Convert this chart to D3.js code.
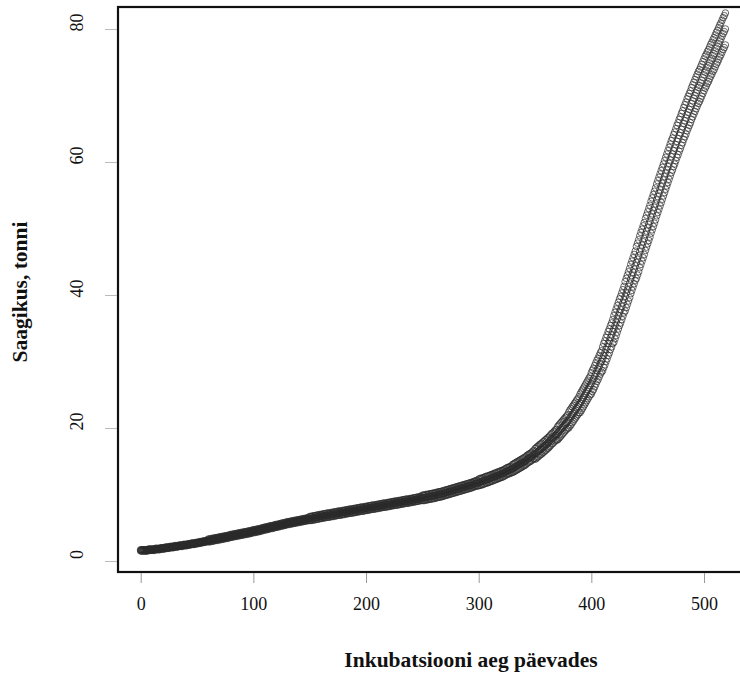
<!DOCTYPE html>
<html>
<head>
<meta charset="utf-8">
<script src="https://cdn.jsdelivr.net/npm/d3@7"></script>
<style>
  html, body { margin: 0; padding: 0; background: #fff; }
  svg { display: block; }
</style>
</head>
<body>
<svg id="chart" width="740" height="674"></svg>
<script>
// Daily yield records (tonnes), one value per incubation day starting at day 0.
const seriesA = [
1.7,1.7,1.7,1.7,1.7,1.7,1.7,1.8,1.8,1.8, 1.8,1.8,1.8,1.9,1.9,1.9,1.9,1.9,2.0,2.0,
2.0,2.0,2.1,2.1,2.1,2.1,2.2,2.2,2.2,2.2, 2.3,2.3,2.3,2.3,2.4,2.4,2.4,2.4,2.5,2.5,
2.5,2.5,2.6,2.6,2.6,2.7,2.7,2.7,2.7,2.8, 2.8,2.8,2.9,2.9,2.9,3.0,3.0,3.0,3.1,3.1,
3.3,3.3,3.3,3.4,3.4,3.4,3.5,3.5,3.5,3.6, 3.6,3.6,3.7,3.7,3.7,3.8,3.8,3.8,3.9,3.9,
4.0,4.0,4.0,4.1,4.1,4.1,4.2,4.2,4.2,4.3, 4.3,4.3,4.4,4.4,4.4,4.5,4.5,4.5,4.6,4.6,
4.7,4.7,4.7,4.8,4.8,4.8,4.9,4.9,5.0,5.0, 5.1,5.1,5.1,5.2,5.2,5.3,5.3,5.3,5.4,5.4,
5.5,5.5,5.5,5.6,5.6,5.7,5.7,5.7,5.8,5.8, 5.9,5.9,5.9,6.0,6.0,6.0,6.1,6.1,6.1,6.2,
6.2,6.2,6.3,6.3,6.3,6.4,6.4,6.4,6.5,6.5, 6.7,6.7,6.7,6.8,6.8,6.8,6.9,6.9,6.9,7.0,
7.0,7.0,7.1,7.1,7.1,7.2,7.2,7.2,7.2,7.3, 7.3,7.3,7.4,7.4,7.4,7.5,7.5,7.5,7.5,7.6,
7.6,7.6,7.7,7.7,7.7,7.8,7.8,7.8,7.8,7.9, 7.9,7.9,8.0,8.0,8.0,8.1,8.1,8.1,8.1,8.2,
8.2,8.2,8.3,8.3,8.3,8.4,8.4,8.4,8.4,8.5, 8.5,8.5,8.6,8.6,8.6,8.7,8.7,8.7,8.7,8.8,
8.8,8.8,8.9,8.9,8.9,9.0,9.0,9.0,9.0,9.1, 9.1,9.1,9.2,9.2,9.2,9.3,9.3,9.3,9.3,9.4,
9.4,9.4,9.5,9.5,9.5,9.6,9.6,9.6,9.7,9.7, 9.9,9.9,9.9,10.0,10.0,10.0,10.1,10.1,10.1,10.2,
10.2,10.2,10.3,10.3,10.4,10.4,10.4,10.5,10.5,10.6, 10.6,10.7,10.7,10.8,10.8,10.9,10.9,11.0,11.0,11.1,
11.1,11.2,11.2,11.3,11.3,11.4,11.4,11.5,11.5,11.6, 11.6,11.7,11.7,11.8,11.8,11.9,12.0,12.0,12.1,12.1,
12.3,12.4,12.4,12.5,12.5,12.6,12.7,12.7,12.8,12.8, 12.9,13.0,13.0,13.1,13.2,13.2,13.3,13.4,13.4,13.5,
13.6,13.6,13.7,13.8,13.9,14.0,14.1,14.1,14.2,14.3, 14.5,14.6,14.7,14.8,14.9,15.0,15.1,15.2,15.3,15.4,
15.5,15.6,15.7,15.9,16.0,16.1,16.2,16.3,16.5,16.6, 16.9,17.0,17.2,17.3,17.5,17.6,17.7,17.9,18.0,18.2,
18.3,18.5,18.6,18.8,19.0,19.2,19.3,19.5,19.7,19.8, 20.2,20.4,20.6,20.8,21.0,21.2,21.4,21.6,21.8,22.0,
22.4,22.7,22.9,23.2,23.4,23.7,23.9,24.2,24.4,24.7, 25.1,25.4,25.7,26.0,26.3,26.6,26.9,27.2,27.5,27.8,
28.3,28.7,29.0,29.4,29.8,30.2,30.5,30.9,31.3,31.6, 32.2,32.7,33.1,33.6,34.0,34.5,34.9,35.4,35.8,36.3,
36.9,37.4,37.9,38.4,38.9,39.4,39.8,40.3,40.8,41.3, 42.0,42.5,43.0,43.5,44.0,44.6,45.1,45.6,46.1,46.6,
47.3,47.8,48.3,48.9,49.4,49.9,50.4,50.9,51.5,52.0, 52.5,53.0,53.5,54.1,54.6,55.1,55.6,56.1,56.7,57.2,
57.7,58.2,58.7,59.2,59.7,60.2,60.7,61.2,61.7,62.2, 62.7,63.2,63.6,64.1,64.5,65.0,65.5,65.9,66.4,66.8,
67.3,67.7,68.2,68.6,69.0,69.5,69.9,70.3,70.7,71.2, 71.6,72.0,72.4,72.8,73.2,73.6,73.9,74.3,74.7,75.1,
75.5,75.9,76.2,76.6,76.9,77.3,77.7,78.0,78.4,78.7, 79.1,79.5,79.8,80.2,80.6,80.9,81.3,81.7,82.0,82.4
];

const seriesB = [
1.6,1.6,1.6,1.6,1.6,1.6,1.6,1.7,1.7,1.7, 1.7,1.7,1.7,1.8,1.8,1.8,1.8,1.8,1.9,1.9,
1.9,1.9,2.0,2.0,2.0,2.0,2.1,2.1,2.1,2.1, 2.2,2.2,2.2,2.2,2.3,2.3,2.3,2.3,2.4,2.4,
2.4,2.4,2.5,2.5,2.5,2.6,2.6,2.6,2.6,2.7, 2.7,2.7,2.8,2.8,2.8,2.9,2.9,2.9,3.0,3.0,
3.1,3.1,3.1,3.2,3.2,3.2,3.3,3.3,3.3,3.4, 3.4,3.4,3.5,3.5,3.5,3.6,3.6,3.6,3.7,3.7,
3.8,3.8,3.8,3.9,3.9,3.9,4.0,4.0,4.0,4.1, 4.1,4.1,4.2,4.2,4.2,4.3,4.3,4.3,4.4,4.4,
4.5,4.5,4.5,4.6,4.6,4.6,4.7,4.7,4.8,4.8, 4.9,4.9,4.9,5.0,5.0,5.1,5.1,5.1,5.2,5.2,
5.3,5.3,5.3,5.4,5.4,5.5,5.5,5.5,5.6,5.6, 5.7,5.7,5.7,5.8,5.8,5.8,5.9,5.9,5.9,6.0,
6.0,6.0,6.1,6.1,6.1,6.2,6.2,6.2,6.3,6.3, 6.4,6.4,6.4,6.5,6.5,6.5,6.6,6.6,6.6,6.7,
6.7,6.7,6.8,6.8,6.8,6.9,6.9,6.9,6.9,7.0, 7.0,7.0,7.1,7.1,7.1,7.2,7.2,7.2,7.2,7.3,
7.3,7.3,7.4,7.4,7.4,7.5,7.5,7.5,7.5,7.6, 7.6,7.6,7.7,7.7,7.7,7.8,7.8,7.8,7.8,7.9,
7.9,7.9,8.0,8.0,8.0,8.1,8.1,8.1,8.1,8.2, 8.2,8.2,8.3,8.3,8.3,8.4,8.4,8.4,8.4,8.5,
8.5,8.5,8.6,8.6,8.6,8.7,8.7,8.7,8.7,8.8, 8.8,8.8,8.9,8.9,8.9,9.0,9.0,9.0,9.0,9.1,
9.1,9.1,9.2,9.2,9.2,9.3,9.3,9.3,9.4,9.4, 9.5,9.5,9.5,9.6,9.6,9.6,9.7,9.7,9.7,9.8,
9.8,9.8,9.9,9.9,10.0,10.0,10.0,10.1,10.1,10.2, 10.2,10.3,10.3,10.4,10.4,10.5,10.5,10.6,10.6,10.7,
10.7,10.8,10.8,10.9,10.9,11.0,11.0,11.1,11.1,11.2, 11.2,11.3,11.3,11.4,11.4,11.5,11.6,11.6,11.7,11.7,
11.8,11.9,11.9,12.0,12.0,12.1,12.2,12.2,12.3,12.3, 12.4,12.5,12.5,12.6,12.7,12.7,12.8,12.9,12.9,13.0,
13.1,13.1,13.2,13.3,13.4,13.5,13.6,13.6,13.7,13.8, 13.9,14.0,14.1,14.2,14.3,14.4,14.5,14.6,14.7,14.8,
14.9,15.0,15.1,15.3,15.4,15.5,15.6,15.7,15.9,16.0, 16.1,16.2,16.4,16.5,16.7,16.8,16.9,17.1,17.2,17.4,
17.5,17.7,17.8,18.0,18.2,18.4,18.5,18.7,18.9,19.0, 19.2,19.4,19.6,19.8,20.0,20.2,20.4,20.6,20.8,21.0,
21.2,21.5,21.7,22.0,22.2,22.5,22.7,23.0,23.2,23.5, 23.7,24.0,24.3,24.6,24.9,25.2,25.5,25.8,26.1,26.4,
26.7,27.1,27.4,27.8,28.2,28.6,28.9,29.3,29.7,30.0, 30.4,30.9,31.3,31.8,32.2,32.7,33.1,33.6,34.0,34.5,
34.9,35.4,35.9,36.4,36.9,37.4,37.8,38.3,38.8,39.3, 39.8,40.3,40.8,41.3,41.8,42.4,42.9,43.4,43.9,44.4,
44.9,45.4,45.9,46.5,47.0,47.5,48.0,48.5,49.1,49.6, 50.1,50.6,51.1,51.7,52.2,52.7,53.2,53.7,54.3,54.8,
55.3,55.8,56.3,56.8,57.3,57.8,58.3,58.8,59.3,59.8, 60.3,60.8,61.2,61.7,62.1,62.6,63.1,63.5,64.0,64.4,
64.9,65.3,65.8,66.2,66.6,67.1,67.5,67.9,68.3,68.8, 69.2,69.6,70.0,70.4,70.8,71.2,71.5,71.9,72.3,72.7,
73.1,73.5,73.8,74.2,74.5,74.9,75.3,75.6,76.0,76.3, 76.7,77.1,77.4,77.8,78.2,78.5,78.9,79.3,79.6,80.0
];

const seriesC = [
1.5,1.5,1.5,1.5,1.5,1.5,1.5,1.6,1.6,1.6, 1.6,1.6,1.6,1.7,1.7,1.7,1.7,1.7,1.8,1.8,
1.8,1.8,1.9,1.9,1.9,1.9,2.0,2.0,2.0,2.0, 2.1,2.1,2.1,2.1,2.2,2.2,2.2,2.2,2.3,2.3,
2.3,2.3,2.4,2.4,2.4,2.5,2.5,2.5,2.5,2.6, 2.6,2.6,2.7,2.7,2.7,2.8,2.8,2.8,2.9,2.9,
2.9,2.9,2.9,3.0,3.0,3.0,3.1,3.1,3.1,3.2, 3.2,3.2,3.3,3.3,3.3,3.4,3.4,3.4,3.5,3.5,
3.6,3.6,3.6,3.7,3.7,3.7,3.8,3.8,3.8,3.9, 3.9,3.9,4.0,4.0,4.0,4.1,4.1,4.1,4.2,4.2,
4.3,4.3,4.3,4.4,4.4,4.4,4.5,4.5,4.6,4.6, 4.7,4.7,4.7,4.8,4.8,4.9,4.9,4.9,5.0,5.0,
5.1,5.1,5.1,5.2,5.2,5.3,5.3,5.3,5.4,5.4, 5.5,5.5,5.5,5.6,5.6,5.6,5.7,5.7,5.7,5.8,
5.8,5.8,5.9,5.9,5.9,6.0,6.0,6.0,6.1,6.1, 6.1,6.1,6.1,6.2,6.2,6.2,6.3,6.3,6.3,6.4,
6.4,6.4,6.5,6.5,6.5,6.6,6.6,6.6,6.6,6.7, 6.7,6.7,6.8,6.8,6.8,6.9,6.9,6.9,6.9,7.0,
7.0,7.0,7.1,7.1,7.1,7.2,7.2,7.2,7.2,7.3, 7.3,7.3,7.4,7.4,7.4,7.5,7.5,7.5,7.5,7.6,
7.6,7.6,7.7,7.7,7.7,7.8,7.8,7.8,7.8,7.9, 7.9,7.9,8.0,8.0,8.0,8.1,8.1,8.1,8.1,8.2,
8.2,8.2,8.3,8.3,8.3,8.4,8.4,8.4,8.4,8.5, 8.5,8.5,8.6,8.6,8.6,8.7,8.7,8.7,8.7,8.8,
8.8,8.8,8.9,8.9,8.9,9.0,9.0,9.0,9.1,9.1, 9.1,9.1,9.1,9.2,9.2,9.2,9.3,9.3,9.3,9.4,
9.4,9.4,9.5,9.5,9.6,9.6,9.6,9.7,9.7,9.8, 9.8,9.9,9.9,10.0,10.0,10.1,10.1,10.2,10.2,10.3,
10.3,10.4,10.4,10.5,10.5,10.6,10.6,10.7,10.7,10.8, 10.8,10.9,10.9,11.0,11.0,11.1,11.2,11.2,11.3,11.3,
11.3,11.4,11.4,11.5,11.5,11.6,11.7,11.7,11.8,11.8, 11.9,12.0,12.0,12.1,12.2,12.2,12.3,12.4,12.4,12.5,
12.6,12.6,12.7,12.8,12.9,13.0,13.1,13.1,13.2,13.3, 13.3,13.4,13.5,13.6,13.7,13.8,13.9,14.0,14.1,14.2,
14.3,14.4,14.5,14.7,14.8,14.9,15.0,15.1,15.3,15.4, 15.3,15.4,15.6,15.7,15.9,16.0,16.1,16.3,16.4,16.6,
16.7,16.9,17.0,17.2,17.4,17.6,17.7,17.9,18.1,18.2, 18.2,18.4,18.6,18.8,19.0,19.2,19.4,19.6,19.8,20.0,
20.0,20.3,20.5,20.8,21.0,21.3,21.5,21.8,22.0,22.3, 22.3,22.6,22.9,23.2,23.5,23.8,24.1,24.4,24.7,25.0,
25.1,25.5,25.8,26.2,26.6,27.0,27.3,27.7,28.1,28.4, 28.6,29.1,29.5,30.0,30.4,30.9,31.3,31.8,32.2,32.7,
32.9,33.4,33.9,34.4,34.9,35.4,35.8,36.3,36.8,37.3, 37.6,38.1,38.6,39.1,39.6,40.2,40.7,41.2,41.7,42.2,
42.5,43.0,43.5,44.1,44.6,45.1,45.6,46.1,46.7,47.2, 47.7,48.2,48.7,49.3,49.8,50.3,50.8,51.3,51.9,52.4,
52.9,53.4,53.9,54.4,54.9,55.4,55.9,56.4,56.9,57.4, 57.9,58.4,58.8,59.3,59.7,60.2,60.7,61.1,61.6,62.0,
62.5,62.9,63.4,63.8,64.2,64.7,65.1,65.5,65.9,66.4, 66.8,67.2,67.6,68.0,68.4,68.8,69.1,69.5,69.9,70.3,
70.7,71.1,71.4,71.8,72.1,72.5,72.9,73.2,73.6,73.9, 74.3,74.7,75.0,75.4,75.8,76.1,76.5,76.9,77.2,77.6
];

const xTicks = [0, 100, 200, 300, 400, 500];
const yTicks = [0, 20, 40, 60, 80];
const xTitle = "Inkubatsiooni aeg päevades";
const yTitle = "Saagikus, tonni";

const svg = d3.select("#chart");
const serif = "'Liberation Serif', 'Times New Roman', Times, serif";

// Plot frame (right side runs past the page edge)
const frame = { left: 118, top: 7, right: 752, bottom: 572 };

const x = d3.scaleLinear().domain([0, 500]).range([140.7, 704]);
const y = d3.scaleLinear().domain([0, 80]).range([561, 29]);

svg.append("rect").attr("width", 740).attr("height", 674).attr("fill", "#fff");

// Points: one open circle per day for each series
const series = [seriesA, seriesB, seriesC];
const pts = svg.append("g");
series.forEach(vals => {
  pts.selectAll(null)
    .data(vals)
    .join("circle")
    .attr("cx", (d, i) => x(i))
    .attr("cy", d => y(d))
    .attr("r", 3.3)
    .attr("fill", "none")
    .attr("stroke", "#2a2a2a")
    .attr("stroke-width", 0.7);
});

// Frame
svg.append("rect")
  .attr("x", frame.left).attr("y", frame.top)
  .attr("width", frame.right - frame.left).attr("height", frame.bottom - frame.top)
  .attr("fill", "none").attr("stroke", "#111").attr("stroke-width", 2.2);

// X axis
const xAxis = d3.axisBottom(x).tickValues(xTicks).tickSize(10).tickPadding(14)
  .tickFormat(d3.format("d"));
const gx = svg.append("g").attr("transform", `translate(0,${frame.bottom + 1})`).call(xAxis);
gx.select(".domain").remove();
gx.selectAll(".tick line").attr("stroke", "#999").attr("stroke-width", 1);
gx.selectAll(".tick text").attr("font-family", serif).attr("font-size", 18).attr("fill", "#111");

// Y axis
const yAxis = d3.axisLeft(y).tickValues(yTicks).tickSize(12).tickFormat(d3.format("d"));
const gy = svg.append("g").attr("transform", `translate(${frame.left - 1},0)`).call(yAxis);
gy.select(".domain").remove();
gy.selectAll(".tick line").attr("stroke", "#bbb").attr("stroke-width", 1);
gy.selectAll(".tick text")
  .attr("font-family", serif).attr("font-size", 18).attr("fill", "#111")
  .attr("text-anchor", "middle")
  .attr("dy", null).attr("x", null)
  .attr("transform", "translate(-34,-7) rotate(-90)");

// Titles
svg.append("text")
  .attr("x", 471).attr("y", 667)
  .attr("text-anchor", "middle")
  .attr("font-family", serif).attr("font-weight", "bold").attr("font-size", 21.5)
  .attr("fill", "#111")
  .text(xTitle);

svg.append("text")
  .attr("transform", "translate(27,292) rotate(-90)")
  .attr("text-anchor", "middle")
  .attr("font-family", serif).attr("font-weight", "bold").attr("font-size", 21.5)
  .attr("fill", "#111")
  .text(yTitle);
</script>
</body>
</html>
